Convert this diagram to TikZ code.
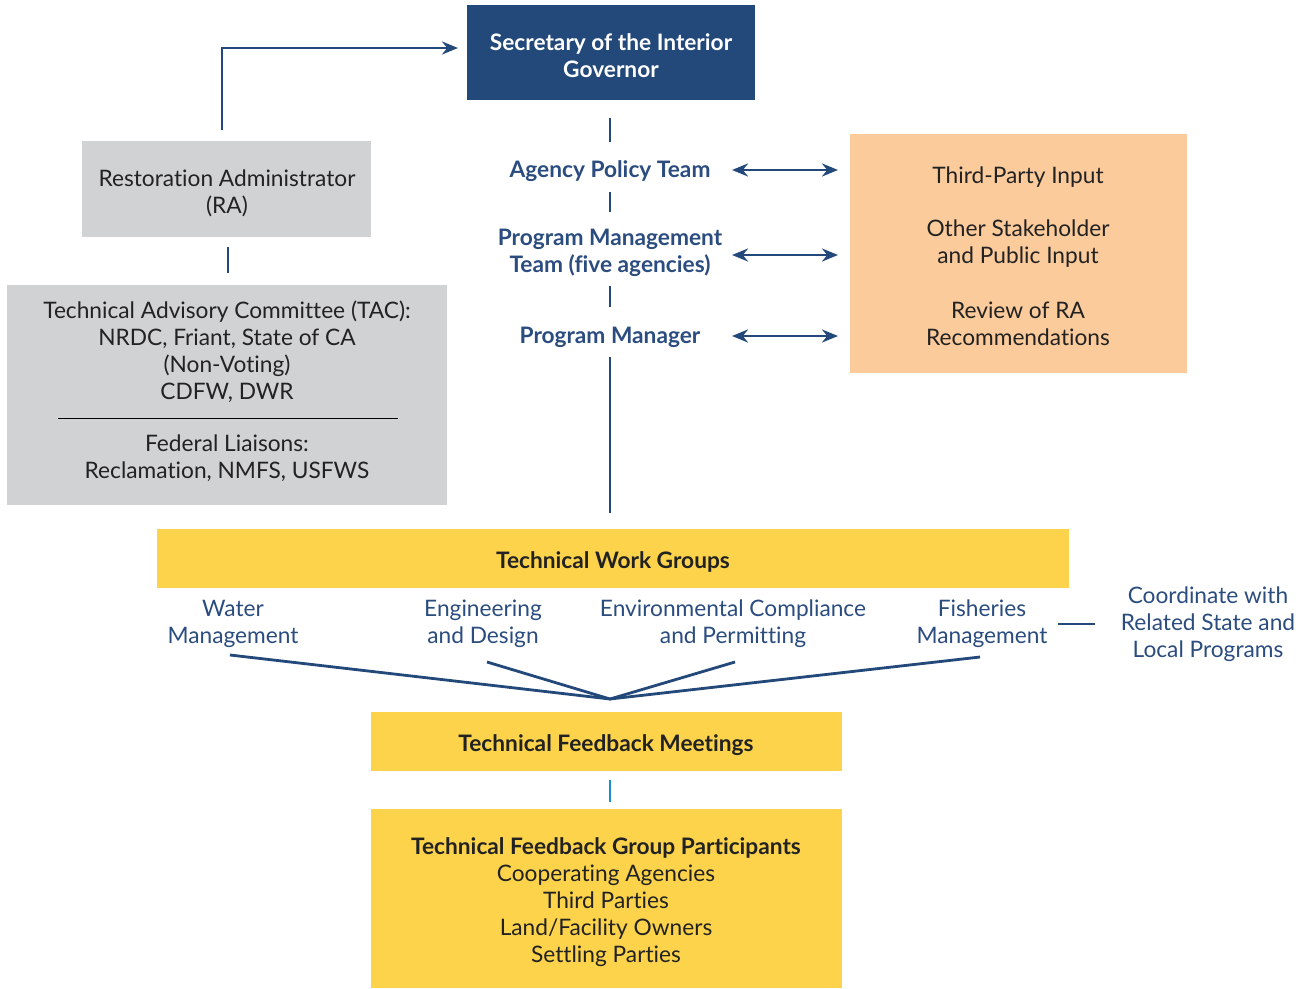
\documentclass[tikz,border=0pt]{standalone}
\usepackage{fontspec}
\setmainfont{Lato}[Ligatures={NoCommon,NoRare,NoContextual},Contextuals=NoAlternate,RawFeature={-dlig;-calt;-liga}]
\usetikzlibrary{arrows.meta}
\definecolor{navy}{HTML}{23487A}
\definecolor{tblue}{HTML}{2B4C7E}
\definecolor{greybox}{HTML}{D1D2D4}
\definecolor{peach}{HTML}{FBCB9C}
\definecolor{yell}{HTML}{FCD34B}
\definecolor{lblue}{HTML}{1A8FD0}
\definecolor{dtext}{HTML}{222222}
\tikzset{
  txt/.style={font=\fontsize{22.7}{27}\selectfont,align=center,inner sep=0pt},
  btxt/.style={txt,font=\fontsize{22.7}{27}\selectfont\bfseries},
  conn/.style={draw=navy,line width=2.8pt},
  dbl/.style={draw=navy,line width=2.8pt,{Stealth[length=16pt,width=13pt]}-{Stealth[length=16pt,width=13pt]}},
  sarr/.style={draw=navy,line width=2.8pt,-{Stealth[length=16pt,width=13pt]}},
}
\begin{document}
\begin{tikzpicture}[x=1pt,y=-1pt]
\useasboundingbox (0,0) rectangle (1305,988);
% boxes
\fill[navy] (467,5) rectangle (755,100);
\node[btxt,text=white] (sec) at (611,56) {Secretary of the Interior\\Governor};
\coordinate (secW) at (458,48);
\fill[greybox] (82,141) rectangle (371,237);
\node[txt,text=dtext] (ra) at (227,193) {Restoration Administrator\\(RA)};
\coordinate (raTop) at (222,130);
\fill[greybox] (7,285) rectangle (447,505);
\node[txt,text=dtext] (tac) at (227,352) {Technical Advisory Committee (TAC):\\NRDC, Friant, State of CA\\(Non-Voting)\\CDFW, DWR};
\node[txt,text=dtext] (fed) at (227,458) {Federal Liaisons:\\Reclamation, NMFS, USFWS};
\coordinate (hrA) at (58,418);
\coordinate (hrB) at (398,418);
\draw[line width=1pt,black] (hrA) -- (hrB);
% RA connectors
\draw[sarr] (raTop) |- (secW);
\coordinate (raL1) at (228,247);
\coordinate (raL2) at (228,273);
\draw[conn] (raL1) -- (raL2);
% center column
\node[btxt,text=tblue] (apt) at (610,171) {Agency Policy Team};
\node[btxt,text=tblue] (pmt) at (610,253) {Program Management\\Team (five agencies)};
\node[btxt,text=tblue] (pm) at (610,337) {Program Manager};
\coordinate (c1a) at (610,118); \coordinate (c1b) at (610,142);
\coordinate (c2a) at (610,192); \coordinate (c2b) at (610,212);
\coordinate (c3a) at (610,286); \coordinate (c3b) at (610,307);
\coordinate (c4a) at (610,357); \coordinate (c4b) at (610,513);
\draw[conn] (c1a) -- (c1b);
\draw[conn] (c2a) -- (c2b);
\draw[conn] (c3a) -- (c3b);
\draw[conn] (c4a) -- (c4b);
% peach
\fill[peach] (850,134) rectangle (1187,373);
\node[txt,text=dtext] (tpi) at (1018,177) {Third-Party Input};
\node[txt,text=dtext] (osp) at (1018,244) {Other Stakeholder\\and Public Input};
\node[txt,text=dtext] (rev) at (1018,324) {Review of RA\\Recommendations};
\coordinate (d1a) at (732,170); \coordinate (d1b) at (838,170);
\coordinate (d2a) at (732,255); \coordinate (d2b) at (838,255);
\coordinate (d3a) at (732,336); \coordinate (d3b) at (838,336);
\draw[dbl] (d1a) -- (d1b);
\draw[dbl] (d2a) -- (d2b);
\draw[dbl] (d3a) -- (d3b);
% TWG
\fill[yell] (157,529) rectangle (1069,588);
\node[btxt,text=dtext] (twg) at (613,562) {Technical Work Groups};
\node[txt,text=tblue] (wm) at (233,624) {Water\\Management};
\node[txt,text=tblue] (ed) at (483,624) {Engineering\\and Design};
\node[txt,text=tblue] (ec) at (733,624) {Environmental Compliance\\and Permitting};
\node[txt,text=tblue] (fm) at (982,624) {Fisheries\\Management};
\node[txt,text=tblue] (coord) at (1208,624) {Coordinate with\\Related State and\\Local Programs};
\coordinate (hub) at (610,699);
\coordinate (wmE) at (230,655);
\coordinate (edE) at (487,662);
\coordinate (ecE) at (735,662);
\coordinate (fmE) at (980,657);
\draw[draw=navy,line width=2.8pt,line join=round] (wmE) -- (hub) -- (fmE);
\draw[draw=navy,line width=2.8pt,line join=round] (edE) -- (hub) -- (ecE);
\coordinate (fmR) at (1058,624); \coordinate (coL) at (1095,624);
\draw[conn] (fmR) -- (coL);
% TFM
\fill[yell] (371,712) rectangle (842,771);
\node[btxt,text=dtext] (tfm) at (606,745) {Technical Feedback Meetings};
\coordinate (lb1) at (610,780); \coordinate (lb2) at (610,802);
\draw[draw=lblue,line width=2.8pt] (lb1) -- (lb2);
% TFGP
\fill[yell] (371,809) rectangle (842,988);
\node[txt,text=dtext] (tfgp) at (606,902) {\textbf{Technical Feedback Group Participants}\\Cooperating Agencies\\Third Parties\\Land/Facility Owners\\Settling Parties};
\end{tikzpicture}
\end{document}
